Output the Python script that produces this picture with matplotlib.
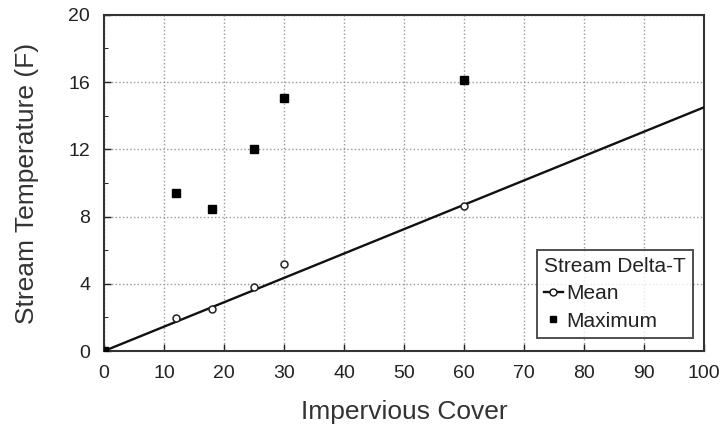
import matplotlib
matplotlib.use("Agg")
import matplotlib.pyplot as plt
import numpy as np

plt.rcParams['font.family'] = ['Liberation Sans', 'DejaVu Sans']

# data
cover = [0, 12, 18, 25, 30, 60]
mean_dt = [0, 1.95, 2.5, 3.8, 5.15, 8.6]
max_dt = [0, 9.4, 8.45, 12.0, 15.05, 16.15]
fit_x = [0, 100]
fit_y = [0, 14.5]

xticks = [0, 10, 20, 30, 40, 50, 60, 70, 80, 90, 100]
yticks = [0, 4, 8, 12, 16, 20]

fig = plt.figure(figsize=(7.22, 4.25), dpi=100)
ax = fig.add_axes([0.144, 0.174, 0.831, 0.791])

# regression line through the mean values
ax.plot(fit_x, fit_y, color='#111111', lw=1.7, zorder=3)
ax.plot(cover[1:], mean_dt[1:], 'o', ms=5, mfc='white', mec='#222222', mew=1.1, zorder=4)
ax.plot(cover, max_dt, 's', ms=6.3, color='black', zorder=5)

# legend handles
ax.plot([], [], '-o', color='#111111', lw=1.7, ms=5, mfc='white', label='Mean')
ax.plot([], [], 's', color='black', ms=5, label='Maximum')
leg = ax.legend(title='Stream Delta-T', loc='lower right', bbox_to_anchor=(0.982, 0.039),
                borderaxespad=0, fontsize=15, title_fontsize=15, frameon=True,
                fancybox=False, edgecolor='#222222', handlelength=0.9,
                handletextpad=0.15, borderpad=0.35, labelspacing=0.4)
leg.get_frame().set_linewidth(1.4)
leg._legend_box.align = "left"
for t in leg.get_texts() + [leg.get_title()]:
    t.set_color('#222222')

ax.set_xlim(0, 100)
ax.set_ylim(0, 20)
ax.set_xticks(xticks)
ax.set_yticks(yticks)
ax.set_yticks(np.arange(0, 21, 2), minor=True)
ax.tick_params(direction='in', labelsize=14, length=5, width=1, colors='#222222')
ax.tick_params(which='minor', direction='in', length=3)
ax.tick_params(axis='x', pad=10)
ax.tick_params(axis='y', pad=10)
ax.grid(True, linestyle=':', color='#999999', lw=1.0)
for s in ax.spines.values():
    s.set_linewidth(1.5)
    s.set_color('#333333')

ax.set_xlabel('Impervious Cover', fontsize=19, color='#333333', labelpad=13)
ax.set_ylabel('Stream Temperature (F)', fontsize=19, color='#333333', labelpad=21)

fig.savefig('out.png', dpi=100)
